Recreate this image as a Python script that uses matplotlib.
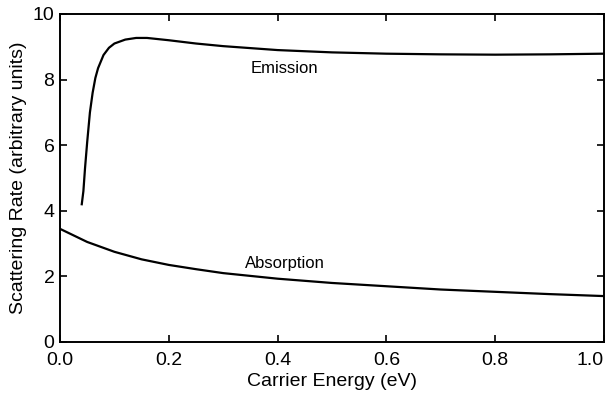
import matplotlib.pyplot as plt

# values
emission_x = [0.040, 0.043, 0.046, 0.050, 0.055, 0.060, 0.065, 0.070, 0.080, 0.090,
              0.100, 0.120, 0.140, 0.160, 0.200, 0.250, 0.300, 0.400, 0.500, 0.600,
              0.700, 0.800, 0.900, 1.000]
emission_y = [4.20, 4.60, 5.30, 6.10, 7.00, 7.60, 8.05, 8.35, 8.75, 8.97,
              9.10, 9.22, 9.27, 9.27, 9.20, 9.10, 9.02, 8.90, 8.83, 8.79,
              8.77, 8.76, 8.77, 8.79]

absorption_x = [0.0, 0.05, 0.1, 0.15, 0.2, 0.25, 0.3, 0.4, 0.5, 0.6, 0.7, 0.8, 0.9, 1.0]
absorption_y = [3.45, 3.05, 2.75, 2.52, 2.35, 2.22, 2.10, 1.93, 1.80, 1.70, 1.60, 1.53, 1.46, 1.40]

x_ticks = [0.0, 0.2, 0.4, 0.6, 0.8, 1.0]
x_labels = ["0.0", "0.2", "0.4", "0.6", "0.8", "1.0"]
y_ticks = [0, 2, 4, 6, 8, 10]

plt.rcParams['font.family'] = ['Liberation Sans', 'DejaVu Sans']

fig = plt.figure(figsize=(6.09, 3.96), dpi=100)
ax = fig.add_axes([60 / 609, 54 / 396, 544 / 609, 328 / 396])

ax.plot(emission_x, emission_y, color='black', lw=1.6)
ax.plot(absorption_x, absorption_y, color='black', lw=1.6)

ax.text(0.35, 8.35, "Emission", fontsize=12, va='center', ha='left')
ax.text(0.34, 2.4, "Absorption", fontsize=12, va='center', ha='left')

ax.set_xlim(0, 1.0)
ax.set_ylim(0, 10)
ax.set_xticks(x_ticks)
ax.set_xticklabels(x_labels)
ax.set_yticks(y_ticks)
ax.tick_params(direction='in', length=5, width=1.2, top=True, right=True,
               labelsize=14)
ax.tick_params(axis='x', pad=7)
ax.tick_params(axis='y', pad=4)
ax.get_xticklabels()[-1].set_ha('right')
for s in ax.spines.values():
    s.set_linewidth(1.4)

ax.set_xlabel("Carrier Energy (eV)", fontsize=14, labelpad=3)
ax.set_ylabel("Scattering Rate (arbitrary units)", fontsize=14, labelpad=4)

fig.savefig("out.png", dpi=100)
